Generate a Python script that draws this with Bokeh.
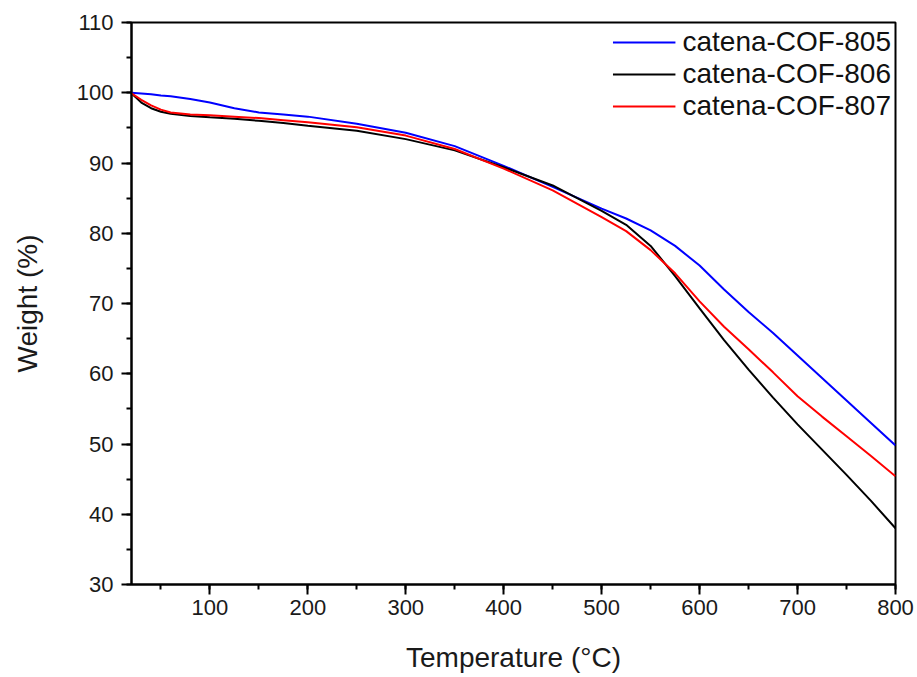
from bokeh.plotting import figure
from bokeh.models import Range1d, SingleIntervalTicker, Legend, LegendItem
from bokeh.embed import file_html
from bokeh.resources import INLINE

temps = [20, 30, 40, 50, 60, 80, 100, 125, 150, 175, 200, 250, 300, 350, 400, 450,
         500, 525, 550, 575, 600, 625, 650, 675, 700, 725, 750, 775, 800]
cof805 = [100.0, 99.9, 99.8, 99.6, 99.5, 99.1, 98.6, 97.8, 97.2, 96.9, 96.6, 95.6, 94.3,
          92.4, 89.6, 86.6, 83.5, 82.1, 80.4, 78.2, 75.4, 72.0, 68.8, 65.8, 62.6, 59.4,
          56.2, 53.0, 49.8]
cof806 = [99.9, 98.6, 97.8, 97.3, 97.0, 96.7, 96.5, 96.3, 96.0, 95.7, 95.3, 94.6, 93.4,
          91.8, 89.4, 86.8, 83.2, 81.2, 78.2, 73.9, 69.3, 64.8, 60.6, 56.6, 52.8, 49.2,
          45.6, 41.9, 38.0]
cof807 = [99.9, 99.0, 98.2, 97.6, 97.2, 96.9, 96.8, 96.6, 96.4, 96.1, 95.8, 95.1, 93.9,
          92.0, 89.2, 86.1, 82.3, 80.3, 77.6, 74.3, 70.3, 66.7, 63.5, 60.2, 56.8, 53.9,
          51.1, 48.3, 45.4]
labels = ["catena-COF-805", "catena-COF-806", "catena-COF-807"]
colors = ["#0000ff", "#000000", "#ff0000"]

FONT = "Liberation Sans"

p = figure(width=917, height=677, output_backend="svg", toolbar_location=None,
           x_range=Range1d(20, 800), y_range=Range1d(30, 110),
           min_border_left=131, min_border_right=22, min_border_top=22, min_border_bottom=93)
p.background_fill_color = "white"
p.border_fill_color = "white"
p.xgrid.visible = False
p.ygrid.visible = False
p.outline_line_color = "black"
p.outline_line_width = 2

renderers = []
for ys, c in zip([cof805, cof806, cof807], colors):
    r = p.line(temps, ys, line_color=c, line_width=2)
    renderers.append(r)

p.xaxis.ticker = SingleIntervalTicker(interval=100, num_minor_ticks=2)
p.yaxis.ticker = SingleIntervalTicker(interval=10, num_minor_ticks=2)
for ax in [p.xaxis[0], p.yaxis[0]]:
    ax.axis_line_width = 2
    ax.major_tick_line_width = 2
    ax.minor_tick_line_width = 2
    ax.major_tick_out = 10
    ax.major_tick_in = 0
    ax.minor_tick_out = 5
    ax.minor_tick_in = 0
    ax.major_label_text_font = FONT
    ax.major_label_text_font_size = "22px"
    ax.major_label_text_color = "#1a1a1a"
    ax.axis_label_text_font = FONT
    ax.axis_label_text_font_size = "28px"
    ax.axis_label_text_font_style = "normal"
    ax.axis_label_text_color = "#1a1a1a"
p.xaxis.axis_label = "Temperature (°C)"
p.yaxis.axis_label = "Weight (%)"
p.xaxis.major_label_standoff = 5
p.yaxis.major_label_standoff = 8
p.xaxis.axis_label_standoff = 24
p.yaxis.axis_label_standoff = 31

legend = Legend(items=[LegendItem(label=l, renderers=[r]) for l, r in zip(labels, renderers)],
                location="top_right")
legend.border_line_color = None
legend.background_fill_alpha = 0
legend.label_text_font = FONT
legend.label_text_font_size = "28px"
legend.label_text_line_height = 1.0
legend.label_text_color = "#111111"
legend.glyph_width = 63
legend.glyph_height = 26
legend.label_standoff = 7
legend.label_height = 26
legend.spacing = 0
legend.padding = 5
legend.margin = 4
p.add_layout(legend)

open("out.html", "w").write(file_html(p, INLINE))
